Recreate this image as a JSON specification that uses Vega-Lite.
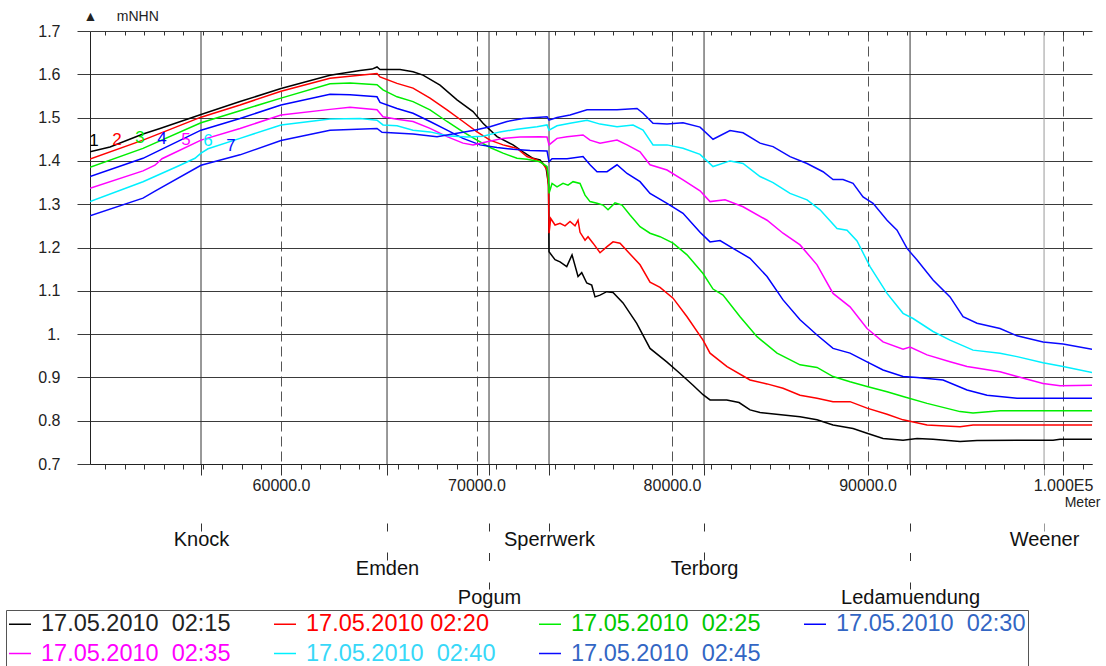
{
  "$schema": "https://vega.github.io/schema/vega-lite/v6.json",
  "width": 1002,
  "height": 433,
  "autosize": "none",
  "padding": {"left": 90, "top": 31, "right": 14, "bottom": 202},
  "background": "white",
  "config": {
    "font": "Liberation Sans",
    "view": {"stroke": null},
    "axis": {"labelFont": "Liberation Sans", "titleFont": "Liberation Sans"},
    "legend": {"labelFont": "Liberation Sans"},
    "text": {"font": "Liberation Sans"}
  },
  "datasets": {
    "locs": [
      {"name": "Knock", "m": 55908},
      {"name": "Emden", "m": 65422},
      {"name": "Pogum", "m": 70639},
      {"name": "Sperrwerk", "m": 73708},
      {"name": "Terborg", "m": 81637},
      {"name": "Ledamuendung", "m": 92174},
      {"name": "Weener", "m": 99028}
    ],
    "nums": [
      {"s": 1, "m": 50434, "v": 1.446, "t": "1"},
      {"s": 2, "m": 51611, "v": 1.449, "t": "2"},
      {"s": 3, "m": 52788, "v": 1.453, "t": "3"},
      {"s": 4, "m": 53913, "v": 1.451, "t": "4"},
      {"s": 5, "m": 55141, "v": 1.448, "t": "5"},
      {"s": 6, "m": 56266, "v": 1.446, "t": "6"},
      {"s": 7, "m": 57442, "v": 1.435, "t": "7"}
    ],
    "series": [
      {"s":1,"m":50230,"v":1.421},{"s":1,"m":51253,"v":1.432},{"s":1,"m":52941,"v":1.462},{"s":1,"m":53811,"v":1.475},{"s":1,"m":55908,"v":1.507},{"s":1,"m":57903,"v":1.537},{"s":1,"m":60000,"v":1.567},{"s":1,"m":62506,"v":1.598},{"s":1,"m":64041,"v":1.609},{"s":1,"m":64655,"v":1.612},{"s":1,"m":64910,"v":1.617},{"s":1,"m":65064,"v":1.611},{"s":1,"m":66087,"v":1.611},{"s":1,"m":66752,"v":1.606},{"s":1,"m":67263,"v":1.598},{"s":1,"m":68133,"v":1.575},{"s":1,"m":69002,"v":1.541},{"s":1,"m":69821,"v":1.514},{"s":1,"m":70332,"v":1.487},{"s":1,"m":71048,"v":1.456},{"s":1,"m":71867,"v":1.437},{"s":1,"m":72378,"v":1.421},{"s":1,"m":72890,"v":1.406},{"s":1,"m":73248,"v":1.402},{"s":1,"m":73555,"v":1.385},{"s":1,"m":73682,"v":1.345},{"s":1,"m":73708,"v":1.19},{"s":1,"m":74015,"v":1.172},{"s":1,"m":74271,"v":1.167},{"s":1,"m":74614,"v":1.156},{"s":1,"m":74885,"v":1.183},{"s":1,"m":75192,"v":1.133},{"s":1,"m":75381,"v":1.142},{"s":1,"m":75637,"v":1.118},{"s":1,"m":75892,"v":1.113},{"s":1,"m":76061,"v":1.086},{"s":1,"m":76317,"v":1.09},{"s":1,"m":76660,"v":1.098},{"s":1,"m":76982,"v":1.096},{"s":1,"m":77493,"v":1.072},{"s":1,"m":78194,"v":1.025},{"s":1,"m":78874,"v":0.967},{"s":1,"m":79729,"v":0.936},{"s":1,"m":80409,"v":0.909},{"s":1,"m":81074,"v":0.882},{"s":1,"m":81585,"v":0.86},{"s":1,"m":81943,"v":0.848},{"s":1,"m":82798,"v":0.848},{"s":1,"m":83427,"v":0.842},{"s":1,"m":83989,"v":0.825},{"s":1,"m":84501,"v":0.819},{"s":1,"m":86547,"v":0.809},{"s":1,"m":87416,"v":0.802},{"s":1,"m":88235,"v":0.79},{"s":1,"m":89258,"v":0.782},{"s":1,"m":89974,"v":0.771},{"s":1,"m":90792,"v":0.759},{"s":1,"m":91815,"v":0.755},{"s":1,"m":92531,"v":0.759},{"s":1,"m":93350,"v":0.757},{"s":1,"m":94731,"v":0.752},{"s":1,"m":95600,"v":0.754},{"s":1,"m":97646,"v":0.755},{"s":1,"m":99488,"v":0.755},{"s":1,"m":99846,"v":0.757},{"s":1,"m":101483,"v":0.757},
      {"s":2,"m":50230,"v":1.404},{"s":2,"m":52941,"v":1.448},{"s":2,"m":55908,"v":1.501},{"s":2,"m":57903,"v":1.529},{"s":2,"m":60000,"v":1.561},{"s":2,"m":62506,"v":1.591},{"s":2,"m":64910,"v":1.602},{"s":2,"m":65064,"v":1.594},{"s":2,"m":65933,"v":1.579},{"s":2,"m":66752,"v":1.568},{"s":2,"m":67621,"v":1.545},{"s":2,"m":68491,"v":1.518},{"s":2,"m":69309,"v":1.491},{"s":2,"m":70025,"v":1.467},{"s":2,"m":70690,"v":1.448},{"s":2,"m":71355,"v":1.437},{"s":2,"m":72071,"v":1.429},{"s":2,"m":72583,"v":1.41},{"s":2,"m":73094,"v":1.402},{"s":2,"m":73401,"v":1.394},{"s":2,"m":73606,"v":1.379},{"s":2,"m":73682,"v":1.34},{"s":2,"m":73708,"v":1.233},{"s":2,"m":73795,"v":1.267},{"s":2,"m":74015,"v":1.252},{"s":2,"m":74271,"v":1.256},{"s":2,"m":74527,"v":1.25},{"s":2,"m":74782,"v":1.26},{"s":2,"m":75038,"v":1.25},{"s":2,"m":75192,"v":1.263},{"s":2,"m":75294,"v":1.235},{"s":2,"m":75550,"v":1.217},{"s":2,"m":75703,"v":1.225},{"s":2,"m":75959,"v":1.21},{"s":2,"m":76317,"v":1.188},{"s":2,"m":76675,"v":1.202},{"s":2,"m":76982,"v":1.213},{"s":2,"m":77340,"v":1.21},{"s":2,"m":77851,"v":1.185},{"s":2,"m":78363,"v":1.16},{"s":2,"m":78874,"v":1.12},{"s":2,"m":79386,"v":1.108},{"s":2,"m":80051,"v":1.083},{"s":2,"m":80767,"v":1.04},{"s":2,"m":81585,"v":0.986},{"s":2,"m":81943,"v":0.956},{"s":2,"m":82813,"v":0.925},{"s":2,"m":83989,"v":0.894},{"s":2,"m":84859,"v":0.885},{"s":2,"m":85677,"v":0.875},{"s":2,"m":86547,"v":0.859},{"s":2,"m":87416,"v":0.852},{"s":2,"m":88235,"v":0.844},{"s":2,"m":89104,"v":0.844},{"s":2,"m":89974,"v":0.829},{"s":2,"m":90997,"v":0.815},{"s":2,"m":91815,"v":0.802},{"s":2,"m":93043,"v":0.79},{"s":2,"m":94731,"v":0.786},{"s":2,"m":95396,"v":0.79},{"s":2,"m":101483,"v":0.79},
      {"s":3,"m":50230,"v":1.385},{"s":3,"m":52941,"v":1.429},{"s":3,"m":55908,"v":1.488},{"s":3,"m":57903,"v":1.516},{"s":3,"m":60000,"v":1.545},{"s":3,"m":62506,"v":1.578},{"s":3,"m":63529,"v":1.58},{"s":3,"m":64910,"v":1.576},{"s":3,"m":65217,"v":1.564},{"s":3,"m":65933,"v":1.548},{"s":3,"m":66752,"v":1.537},{"s":3,"m":67621,"v":1.518},{"s":3,"m":68491,"v":1.491},{"s":3,"m":69309,"v":1.467},{"s":3,"m":70025,"v":1.448},{"s":3,"m":70690,"v":1.431},{"s":3,"m":71355,"v":1.418},{"s":3,"m":72071,"v":1.406},{"s":3,"m":72583,"v":1.404},{"s":3,"m":73248,"v":1.398},{"s":3,"m":73606,"v":1.387},{"s":3,"m":73682,"v":1.36},{"s":3,"m":73708,"v":1.325},{"s":3,"m":73862,"v":1.348},{"s":3,"m":74117,"v":1.34},{"s":3,"m":74424,"v":1.348},{"s":3,"m":74680,"v":1.344},{"s":3,"m":74936,"v":1.352},{"s":3,"m":75294,"v":1.348},{"s":3,"m":75550,"v":1.321},{"s":3,"m":75805,"v":1.306},{"s":3,"m":76163,"v":1.302},{"s":3,"m":76470,"v":1.298},{"s":3,"m":76726,"v":1.287},{"s":3,"m":77084,"v":1.303},{"s":3,"m":77442,"v":1.298},{"s":3,"m":77851,"v":1.275},{"s":3,"m":78363,"v":1.248},{"s":3,"m":78874,"v":1.233},{"s":3,"m":79386,"v":1.225},{"s":3,"m":80051,"v":1.21},{"s":3,"m":80767,"v":1.183},{"s":3,"m":81585,"v":1.14},{"s":3,"m":82097,"v":1.104},{"s":3,"m":82608,"v":1.09},{"s":3,"m":83478,"v":1.04},{"s":3,"m":84347,"v":0.994},{"s":3,"m":85370,"v":0.956},{"s":3,"m":86547,"v":0.929},{"s":3,"m":87416,"v":0.923},{"s":3,"m":88235,"v":0.902},{"s":3,"m":89104,"v":0.89},{"s":3,"m":89974,"v":0.879},{"s":3,"m":90997,"v":0.867},{"s":3,"m":91815,"v":0.856},{"s":3,"m":93043,"v":0.84},{"s":3,"m":94731,"v":0.821},{"s":3,"m":95396,"v":0.818},{"s":3,"m":96777,"v":0.823},{"s":3,"m":101483,"v":0.823},
      {"s":4,"m":50230,"v":1.364},{"s":4,"m":52941,"v":1.406},{"s":4,"m":55908,"v":1.471},{"s":4,"m":57903,"v":1.498},{"s":4,"m":60000,"v":1.529},{"s":4,"m":62506,"v":1.554},{"s":4,"m":63529,"v":1.553},{"s":4,"m":64910,"v":1.548},{"s":4,"m":65064,"v":1.535},{"s":4,"m":65933,"v":1.521},{"s":4,"m":66752,"v":1.51},{"s":4,"m":67621,"v":1.491},{"s":4,"m":68491,"v":1.471},{"s":4,"m":69309,"v":1.452},{"s":4,"m":70179,"v":1.437},{"s":4,"m":71048,"v":1.431},{"s":4,"m":71867,"v":1.427},{"s":4,"m":72736,"v":1.424},{"s":4,"m":73606,"v":1.423},{"s":4,"m":73708,"v":1.398},{"s":4,"m":73862,"v":1.405},{"s":4,"m":74629,"v":1.405},{"s":4,"m":75447,"v":1.41},{"s":4,"m":75805,"v":1.391},{"s":4,"m":76163,"v":1.375},{"s":4,"m":76675,"v":1.375},{"s":4,"m":77186,"v":1.391},{"s":4,"m":77698,"v":1.371},{"s":4,"m":78363,"v":1.352},{"s":4,"m":78874,"v":1.325},{"s":4,"m":79744,"v":1.302},{"s":4,"m":80562,"v":1.279},{"s":4,"m":81432,"v":1.235},{"s":4,"m":81943,"v":1.213},{"s":4,"m":82455,"v":1.216},{"s":4,"m":83120,"v":1.198},{"s":4,"m":83989,"v":1.175},{"s":4,"m":84859,"v":1.133},{"s":4,"m":85677,"v":1.079},{"s":4,"m":86547,"v":1.033},{"s":4,"m":87416,"v":0.998},{"s":4,"m":88235,"v":0.967},{"s":4,"m":89104,"v":0.956},{"s":4,"m":89974,"v":0.936},{"s":4,"m":90792,"v":0.917},{"s":4,"m":91815,"v":0.902},{"s":4,"m":92531,"v":0.9},{"s":4,"m":93861,"v":0.894},{"s":4,"m":95089,"v":0.871},{"s":4,"m":96112,"v":0.859},{"s":4,"m":97646,"v":0.852},{"s":4,"m":101483,"v":0.852},
      {"s":5,"m":50230,"v":1.337},{"s":5,"m":52941,"v":1.377},{"s":5,"m":53555,"v":1.39},{"s":5,"m":53913,"v":1.405},{"s":5,"m":55908,"v":1.448},{"s":5,"m":57903,"v":1.475},{"s":5,"m":60000,"v":1.506},{"s":5,"m":62506,"v":1.519},{"s":5,"m":63529,"v":1.524},{"s":5,"m":64910,"v":1.518},{"s":5,"m":65217,"v":1.502},{"s":5,"m":65933,"v":1.496},{"s":5,"m":66752,"v":1.491},{"s":5,"m":67621,"v":1.475},{"s":5,"m":68491,"v":1.456},{"s":5,"m":69309,"v":1.441},{"s":5,"m":69821,"v":1.437},{"s":5,"m":70537,"v":1.444},{"s":5,"m":71355,"v":1.452},{"s":5,"m":72225,"v":1.455},{"s":5,"m":73248,"v":1.456},{"s":5,"m":73606,"v":1.455},{"s":5,"m":73708,"v":1.437},{"s":5,"m":74117,"v":1.452},{"s":5,"m":74629,"v":1.456},{"s":5,"m":75447,"v":1.46},{"s":5,"m":75805,"v":1.448},{"s":5,"m":76317,"v":1.441},{"s":5,"m":77186,"v":1.448},{"s":5,"m":77698,"v":1.437},{"s":5,"m":78363,"v":1.421},{"s":5,"m":78874,"v":1.391},{"s":5,"m":79744,"v":1.379},{"s":5,"m":80562,"v":1.356},{"s":5,"m":81432,"v":1.331},{"s":5,"m":81943,"v":1.306},{"s":5,"m":82711,"v":1.31},{"s":5,"m":83631,"v":1.294},{"s":5,"m":84859,"v":1.263},{"s":5,"m":85677,"v":1.233},{"s":5,"m":86547,"v":1.206},{"s":5,"m":87416,"v":1.16},{"s":5,"m":88235,"v":1.094},{"s":5,"m":89104,"v":1.063},{"s":5,"m":89974,"v":1.013},{"s":5,"m":90792,"v":0.982},{"s":5,"m":91815,"v":0.965},{"s":5,"m":92173,"v":0.97},{"s":5,"m":93043,"v":0.952},{"s":5,"m":94219,"v":0.936},{"s":5,"m":95089,"v":0.925},{"s":5,"m":96777,"v":0.913},{"s":5,"m":97646,"v":0.902},{"s":5,"m":98976,"v":0.886},{"s":5,"m":99846,"v":0.881},{"s":5,"m":101483,"v":0.882},
      {"s":6,"m":50230,"v":1.306},{"s":6,"m":52941,"v":1.352},{"s":6,"m":54834,"v":1.39},{"s":6,"m":55601,"v":1.406},{"s":6,"m":55908,"v":1.418},{"s":6,"m":56266,"v":1.428},{"s":6,"m":57903,"v":1.452},{"s":6,"m":60000,"v":1.483},{"s":6,"m":62506,"v":1.497},{"s":6,"m":64041,"v":1.498},{"s":6,"m":64910,"v":1.494},{"s":6,"m":65217,"v":1.483},{"s":6,"m":65933,"v":1.481},{"s":6,"m":66752,"v":1.471},{"s":6,"m":67621,"v":1.467},{"s":6,"m":68491,"v":1.458},{"s":6,"m":69514,"v":1.455},{"s":6,"m":70332,"v":1.457},{"s":6,"m":71202,"v":1.467},{"s":6,"m":72071,"v":1.473},{"s":6,"m":73094,"v":1.479},{"s":6,"m":73606,"v":1.483},{"s":6,"m":73708,"v":1.471},{"s":6,"m":74117,"v":1.481},{"s":6,"m":74782,"v":1.487},{"s":6,"m":75652,"v":1.494},{"s":6,"m":76317,"v":1.485},{"s":6,"m":77186,"v":1.479},{"s":6,"m":78005,"v":1.483},{"s":6,"m":78516,"v":1.471},{"s":6,"m":79028,"v":1.437},{"s":6,"m":79744,"v":1.437},{"s":6,"m":80562,"v":1.429},{"s":6,"m":81432,"v":1.415},{"s":6,"m":82097,"v":1.387},{"s":6,"m":82966,"v":1.4},{"s":6,"m":83631,"v":1.394},{"s":6,"m":84501,"v":1.364},{"s":6,"m":85166,"v":1.35},{"s":6,"m":86035,"v":1.325},{"s":6,"m":86905,"v":1.31},{"s":6,"m":87570,"v":1.287},{"s":6,"m":88439,"v":1.244},{"s":6,"m":88951,"v":1.24},{"s":6,"m":89462,"v":1.215},{"s":6,"m":90127,"v":1.156},{"s":6,"m":90997,"v":1.094},{"s":6,"m":91815,"v":1.048},{"s":6,"m":92327,"v":1.036},{"s":6,"m":93350,"v":1.006},{"s":6,"m":94219,"v":0.986},{"s":6,"m":95396,"v":0.963},{"s":6,"m":96777,"v":0.956},{"s":6,"m":97646,"v":0.948},{"s":6,"m":98976,"v":0.934},{"s":6,"m":100000,"v":0.925},{"s":6,"m":101483,"v":0.911},
      {"s":7,"m":50230,"v":1.273},{"s":7,"m":52941,"v":1.314},{"s":7,"m":53555,"v":1.33},{"s":7,"m":55908,"v":1.39},{"s":7,"m":57903,"v":1.414},{"s":7,"m":60000,"v":1.447},{"s":7,"m":62506,"v":1.471},{"s":7,"m":64910,"v":1.475},{"s":7,"m":65166,"v":1.466},{"s":7,"m":66752,"v":1.462},{"s":7,"m":67979,"v":1.456},{"s":7,"m":69002,"v":1.464},{"s":7,"m":69821,"v":1.47},{"s":7,"m":70690,"v":1.479},{"s":7,"m":71560,"v":1.491},{"s":7,"m":72378,"v":1.498},{"s":7,"m":73248,"v":1.501},{"s":7,"m":73606,"v":1.502},{"s":7,"m":73708,"v":1.494},{"s":7,"m":74117,"v":1.5},{"s":7,"m":74782,"v":1.506},{"s":7,"m":75652,"v":1.518},{"s":7,"m":77186,"v":1.518},{"s":7,"m":78209,"v":1.521},{"s":7,"m":78516,"v":1.51},{"s":7,"m":79028,"v":1.487},{"s":7,"m":79744,"v":1.485},{"s":7,"m":80562,"v":1.488},{"s":7,"m":81432,"v":1.478},{"s":7,"m":82097,"v":1.45},{"s":7,"m":82966,"v":1.47},{"s":7,"m":83631,"v":1.465},{"s":7,"m":84501,"v":1.441},{"s":7,"m":85166,"v":1.433},{"s":7,"m":86035,"v":1.41},{"s":7,"m":86905,"v":1.394},{"s":7,"m":87723,"v":1.375},{"s":7,"m":88235,"v":1.357},{"s":7,"m":88746,"v":1.357},{"s":7,"m":89258,"v":1.348},{"s":7,"m":89769,"v":1.317},{"s":7,"m":90281,"v":1.302},{"s":7,"m":90997,"v":1.263},{"s":7,"m":91508,"v":1.24},{"s":7,"m":92020,"v":1.198},{"s":7,"m":92531,"v":1.171},{"s":7,"m":93350,"v":1.125},{"s":7,"m":94219,"v":1.086},{"s":7,"m":94884,"v":1.04},{"s":7,"m":95600,"v":1.025},{"s":7,"m":96777,"v":1.013},{"s":7,"m":97646,"v":0.996},{"s":7,"m":98976,"v":0.982},{"s":7,"m":100000,"v":0.977},{"s":7,"m":101483,"v":0.965}
    ]
  },
  "layer": [
    {
      "data": {"name": "locs"},
      "mark": {"type": "rule", "strokeWidth": 1},
      "encoding": {
        "x": {"field": "m", "type": "quantitative", "scale": {"domain": [50230, 101480], "nice": false, "zero": false},
          "axis": {"orient": "bottom", "values": [55908, 65422, 70639, 73708, 81637, 92174, 99028], "labels": false, "domain": false, "grid": false, "tickSize": 11,
            "tickColor": {"condition": {"test": "datum.value > 99000", "value": "#999999"}, "value": "#333333"}, "title": null}},
        "stroke": {"condition": {"test": "datum.name === 'Weener'", "value": "#999999"}, "value": "#333333"}
      }
    },
    {
      "data": {"name": "locs"},
      "mark": {"type": "rule", "strokeOpacity": 0},
      "encoding": {
        "x": {"field": "m", "type": "quantitative", "scale": {"domain": [50230, 101480], "nice": false, "zero": false},
          "axis": {"orient": "bottom", "values": [51000,52000,53000,54000,55000,56000,57000,58000,59000,60000,61000,62000,63000,64000,65000,66000,67000,68000,69000,70000,71000,72000,73000,74000,75000,76000,77000,78000,79000,80000,81000,82000,83000,84000,85000,86000,87000,88000,89000,90000,91000,92000,93000,94000,95000,96000,97000,98000,99000,100000,101000],
            "labels": false, "domain": false, "grid": false, "tickSize": 5, "tickColor": "#333333", "title": null}}
      }
    },
    {
      "data": {"name": "locs"},
      "mark": {"type": "rule", "strokeOpacity": 0},
      "encoding": {
        "x": {"field": "m", "type": "quantitative", "scale": {"domain": [50230, 101480], "nice": false, "zero": false},
          "axis": {"orient": "top", "values": [51000,52000,53000,54000,55000,56000,57000,58000,59000,60000,61000,62000,63000,64000,65000,66000,67000,68000,69000,70000,71000,72000,73000,74000,75000,76000,77000,78000,79000,80000,81000,82000,83000,84000,85000,86000,87000,88000,89000,90000,91000,92000,93000,94000,95000,96000,97000,98000,99000,100000,101000],
            "labels": false, "domain": false, "grid": false, "tickSize": -4, "tickColor": "#333333", "title": null}}
      }
    },
    {
      "data": {"name": "locs"},
      "mark": {"type": "rule", "strokeOpacity": 0},
      "encoding": {
        "x": {"field": "m", "type": "quantitative", "scale": {"domain": [50230, 101480], "nice": false, "zero": false},
          "axis": {"orient": "bottom", "offset": 59, "values": [55908, 73708, 99028], "domain": false, "grid": false, "tickSize": 8,
            "tickColor": {"condition": {"test": "datum.value > 99000", "value": "#999999"}, "value": "#333333"},
            "labelExpr": "datum.value < 60000 ? 'Knock' : datum.value < 80000 ? 'Sperrwerk' : 'Weener'",
            "labelFontSize": 20, "labelPadding": -2, "labelColor": "#111111", "title": null}}
      }
    },
    {
      "data": {"name": "locs"},
      "mark": {"type": "rule", "strokeOpacity": 0},
      "encoding": {
        "x": {"field": "m", "type": "quantitative", "scale": {"domain": [50230, 101480], "nice": false, "zero": false},
          "axis": {"orient": "bottom", "offset": 59, "values": [65422, 81637], "domain": false, "grid": false, "tickSize": 37, "tickDash": [8, 21],
            "tickColor": "#333333",
            "labelExpr": "datum.value < 70000 ? 'Emden' : 'Terborg'",
            "labelFontSize": 20, "labelPadding": -2, "labelColor": "#111111", "title": null}}
      }
    },
    {
      "data": {"name": "locs"},
      "mark": {"type": "rule", "strokeOpacity": 0},
      "encoding": {
        "x": {"field": "m", "type": "quantitative", "scale": {"domain": [50230, 101480], "nice": false, "zero": false},
          "axis": {"orient": "bottom", "offset": 59, "values": [70639, 92174], "domain": false, "grid": false, "tickSize": 66, "tickDash": [8, 21.5],
            "tickColor": "#333333",
            "labelExpr": "datum.value < 80000 ? 'Pogum' : 'Ledamuendung'",
            "labelFontSize": 20, "labelPadding": -2, "labelColor": "#111111", "title": null}}
      }
    },
    {
      "data": {"name": "series"},
      "mark": {"type": "line", "strokeWidth": 1.5, "clip": true},
      "encoding": {
        "x": {"field": "m", "type": "quantitative", "scale": {"domain": [50230, 101480], "nice": false, "zero": false},
          "axis": {"orient": "bottom", "values": [60000, 70000, 80000, 90000, 100000],
            "labelExpr": "datum.value >= 100000 ? '1.000E5' : format(datum.value, '.1f')",
            "grid": true, "gridDash": [10, 5], "gridColor": "#555555", "gridWidth": 1,
            "tickSize": 11, "tickColor": "#333333", "domainColor": "#222222", "domainWidth": 1,
            "labelFontSize": 16, "labelPadding": 2, "labelColor": "#222222",
            "title": "Meter", "titleFontSize": 14, "titleFontWeight": "normal", "titleColor": "#222222",
            "titleAlign": "right", "titleAnchor": "end", "titleX": 1010, "titleY": 38, "titleBaseline": "middle"}},
        "y": {"field": "v", "type": "quantitative", "scale": {"domain": [0.7, 1.7], "nice": false, "zero": false},
          "axis": {"orient": "left", "values": [0.7, 0.8, 0.9, 1.0, 1.1, 1.2, 1.3, 1.4, 1.5, 1.6, 1.7],
            "labelExpr": "datum.value == 1 ? '1.' : format(datum.value, '.1f')",
            "grid": true, "gridColor": "#3a3a3a", "gridWidth": 1,
            "tickSize": 13, "tickColor": "#3a3a3a", "domain": true, "domainColor": "#222222",
            "labelFontSize": 16, "labelPadding": 17, "labelColor": "#222222",
            "title": "▲\u00a0\u00a0\u00a0\u00a0\u00a0mNHN", "titleAngle": 0, "titleX": -7, "titleY": -15, "titleAlign": "left", "titleBaseline": "middle",
            "titleFontSize": 14, "titleFontWeight": "normal", "titleColor": "#222222"}},
        "color": {"field": "s", "type": "nominal",
          "scale": {"domain": [1, 2, 3, 4, 5, 6, 7], "range": ["#000000", "#ff0000", "#00ee00", "#0000ff", "#ff00ff", "#00f0ff", "#0a0aff"]},
          "legend": {
            "orient": "none", "legendX": -84, "legendY": 579, "direction": "horizontal", "columns": 4,
            "title": null, "symbolType": "stroke", "symbolSize": 484, "symbolStrokeWidth": 1.5,
            "labelFontSize": 23.5, "labelLimit": 400, "labelOffset": 9, "columnPadding": 40, "rowPadding": 5.5,
            "padding": 2, "strokeColor": "#555555",
            "labelColor": {"expr": "['#222222', '#222222', '#ff0000', '#00c800', '#3366c4', '#ff00ff', '#38d8f8', '#3366c4'][datum.value]"},
            "labelExpr": "['', '17.05.2010\u00a0\u00a002:15', '17.05.2010 02:20', '17.05.2010\u00a0\u00a002:25', '17.05.2010\u00a0\u00a002:30', '17.05.2010\u00a0\u00a002:35', '17.05.2010\u00a0\u00a002:40', '17.05.2010\u00a0\u00a002:45'][datum.value]"
          }}
      }
    },
    {
      "data": {"name": "nums"},
      "mark": {"type": "text", "fontSize": 17, "align": "center", "baseline": "middle"},
      "encoding": {
        "x": {"field": "m", "type": "quantitative", "scale": {"domain": [50230, 101480], "nice": false, "zero": false}, "axis": null},
        "y": {"field": "v", "type": "quantitative", "scale": {"domain": [0.7, 1.7], "nice": false, "zero": false}, "axis": null},
        "text": {"field": "t"},
        "color": {"field": "s", "type": "nominal", "legend": null}
      }
    }
  ],
  "resolve": {"axis": {"x": "independent", "y": "independent"}}
}
